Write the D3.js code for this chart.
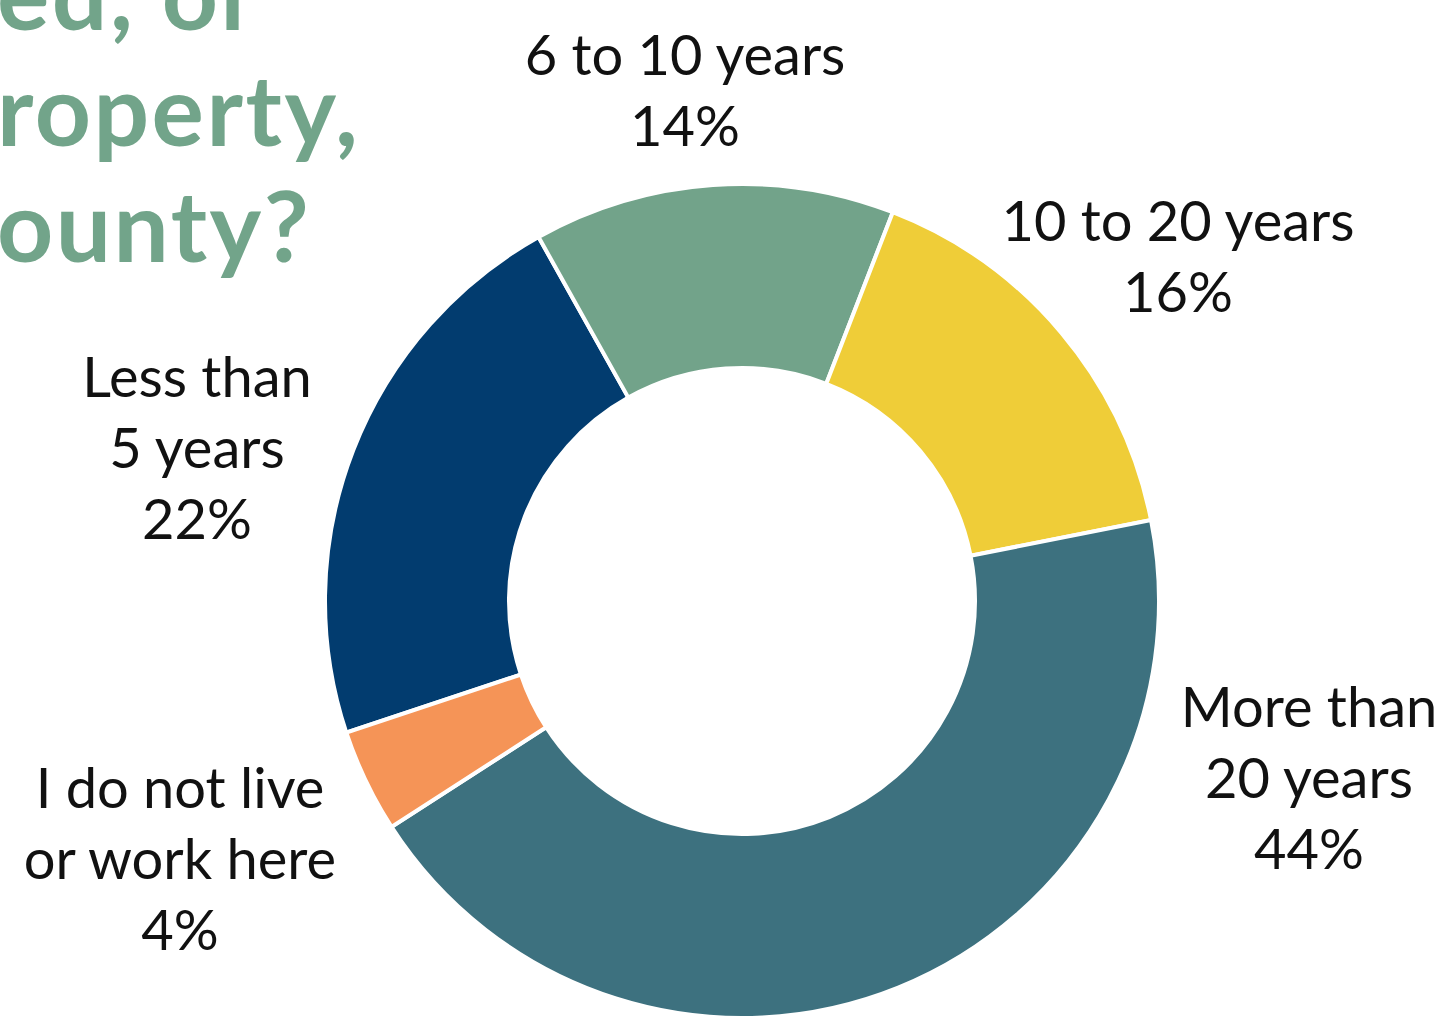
<!DOCTYPE html>
<html>
<head>
<meta charset="utf-8">
<script src="https://cdn.jsdelivr.net/npm/d3@7/dist/d3.min.js"></script>
<style>
  html, body { margin: 0; padding: 0; background: #ffffff; overflow: hidden; }
  svg { display: block; }
</style>
</head>
<body>
<svg id="chart" width="1438" height="1024"></svg>
<script>
// Survey answers: how long respondents have lived or worked here
const categories = ["Less than 5 years", "6 to 10 years", "10 to 20 years", "More than 20 years", "I do not live or work here"];
const shares = [22, 14, 16, 44, 4];
const sliceColors = ["#023C6F", "#72A38A", "#EFCD38", "#3D717F", "#F59457"];
// Label text, broken into lines
const labelLines = [
  ["Less than", "5 years"],
  ["6 to 10 years"],
  ["10 to 20 years"],
  ["More than", "20 years"],
  ["I do not live", "or work here"]
];
// Visible tail of the page heading
const headingLines = ["ed, or", "roperty,", "ounty?"];

const width = 1438, height = 1024;
const cx = 742, cy = 601;
const outerR = 417, innerR = 233;
const startDeg = -108.4;

// Label anchor points (top line baseline), one per category
const labelAnchors = [
  [197, 397],
  [685, 75],
  [1178, 241],
  [1309, 727],
  [180, 808]
];
const lineStep = 71;

const svg = d3.select("#chart");

// Heading fragment, cut at the left edge
svg.append("g")
  .selectAll("text")
  .data(headingLines)
  .join("text")
  .attr("x", -3)
  .attr("y", (d, i) => 30 + i * 116)
  .attr("font-family", "Lato, 'Open Sans', sans-serif")
  .attr("font-weight", 700)
  .attr("font-size", 98)
  .attr("letter-spacing", 2.5)
  .attr("fill", "#72A48A")
  .text(d => d);

const color = d3.scaleOrdinal().domain(categories).range(sliceColors);

const pie = d3.pie()
  .sort(null)
  .value(d => d.value)
  .startAngle(startDeg * Math.PI / 180)
  .endAngle(startDeg * Math.PI / 180 + 2 * Math.PI);

const data = categories.map((c, i) => ({ name: c, value: shares[i] }));
const arcs = pie(data);

const arc = d3.arc().innerRadius(innerR).outerRadius(outerR);

const g = svg.append("g").attr("transform", `translate(${cx},${cy})`);

g.selectAll("path")
  .data(arcs)
  .join("path")
  .attr("d", arc)
  .attr("fill", d => color(d.data.name))
  .attr("stroke", "#ffffff")
  .attr("stroke-width", 4)
  .attr("stroke-linejoin", "miter");

// Category labels with their percentage on the last line
const labels = svg.append("g")
  .attr("font-family", "Lato, 'Open Sans', sans-serif")
  .attr("font-size", 56)
  .attr("fill", "#111111")
  .attr("text-anchor", "middle");

arcs.forEach((a, i) => {
  const lines = labelLines[i].concat([a.data.value + "%"]);
  const [lx, ly] = labelAnchors[i];
  const t = labels.append("text").attr("x", lx).attr("y", ly);
  lines.forEach((ln, j) => {
    t.append("tspan")
      .attr("x", lx)
      .attr("y", ly + j * lineStep)
      .text(ln);
  });
});
</script>
</body>
</html>
